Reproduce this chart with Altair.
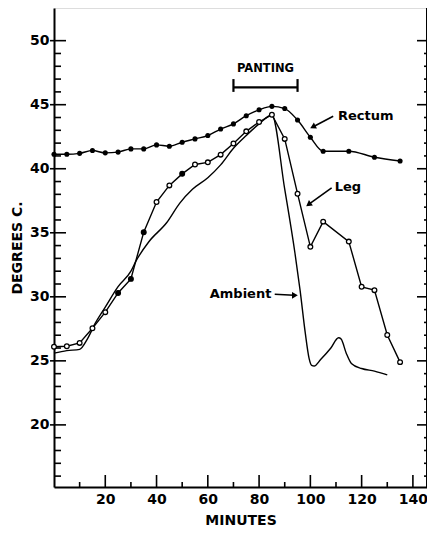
import altair as alt
import pandas as pd

# ---------------- data ----------------
rectum_min = [0, 5, 10, 15, 20, 25, 30, 35, 40, 45, 50, 55, 60, 65, 70, 75, 80, 85, 90, 95, 100, 105, 115, 125, 135]
rectum_deg = [41.13, 41.13, 41.2, 41.42, 41.24, 41.3, 41.55, 41.55, 41.86, 41.76, 42.07, 42.33, 42.59, 43.1, 43.5,
              44.14, 44.6, 44.87, 44.7, 43.8, 42.46, 41.37, 41.37, 40.9, 40.6]

leg_min = [0, 5, 10, 15, 20, 25, 30, 35, 40, 45, 50, 55, 60, 65, 70, 75, 80, 85, 90, 95, 100, 105, 115, 120, 125, 130, 135]
leg_deg = [26.1, 26.14, 26.4, 27.54, 28.8, 30.3, 31.4, 35.05, 37.4, 38.7, 39.6, 40.33, 40.5, 41.1, 41.97, 42.92,
           43.65, 44.22, 42.33, 38.05, 33.9, 35.87, 34.31, 30.78, 30.52, 27.02, 24.9]
leg_filled = [0, 0, 0, 0, 0, 1, 1, 1, 0, 0, 1, 0, 0, 0, 0, 0, 0, 0, 0, 0, 0, 0, 0, 0, 0, 0, 0]

ambient_min = [0, 5, 10, 13, 16, 20, 25, 30, 32, 37, 44, 49, 54, 60, 65, 70, 75, 80, 85, 90, 94, 96, 98, 99.5,
               100.5, 101.5, 104, 108, 111, 112, 114, 116, 120, 125, 130]
ambient_deg = [25.6, 25.8, 25.9, 26.7, 27.9, 29.2, 30.8, 32.0, 32.8, 34.3, 35.8, 37.3, 38.4, 39.3, 40.3, 41.6,
               42.6, 43.5, 44.2, 38.4, 33.4, 30.5, 27.2, 25.2, 24.65, 24.6, 25.1, 26.0, 26.8, 26.7, 25.6, 24.8,
               24.4, 24.2, 23.9]

x_labels = [20, 40, 60, 80, 100, 120, 140]
x_minor = [10, 30, 50, 70, 90, 110, 130]
y_labels = [20, 25, 30, 35, 40, 45, 50]
y_minor = [v for v in range(16, 50) if v % 5 != 0]

# annotations
notes_text = ["Rectum", "Leg", "Ambient"]
notes_x = [110.8, 109.5, 84.8]
notes_y = [44.1, 38.6, 30.2]
notes_align = ["left", "left", "right"]

arrow_x1 = [108.9, 108.3, 86.1]
arrow_y1 = [44.1, 38.5, 30.2]
arrow_x2 = [101.3, 99.6, 93.6]
arrow_y2 = [43.3, 37.25, 30.12]
arrow_angle = [242.5, 234.4, 90]

panting_x = [70, 95]
panting_y = 46.35
panting_cap = [46.0, 47.0]
panting_label_x = 82.5
panting_label_y = 47.75

# ---------------- chart ----------------
W, H = 373, 479
X_DOM = [0, 145.5]
Y_DOM = [15.15, 52.55]
FONT = "DejaVu Sans"

x_axis = alt.Axis(values=x_labels, ticks=False, grid=False, domainColor="black", domainWidth=2,
                  labelFont=FONT, labelFontWeight="bold", labelFontSize=14, labelColor="black",
                  labelPadding=5, title="MINUTES", titleFont=FONT, titleFontWeight="bold",
                  titleFontSize=14, titleColor="black", titlePadding=7, labelFlush=False)
y_axis = alt.Axis(values=y_labels, ticks=False, grid=False, domainColor="black", domainWidth=2,
                  labelFont=FONT, labelFontWeight="bold", labelFontSize=14, labelColor="black",
                  labelPadding=5, title="DEGREES C.", titleFont=FONT, titleFontWeight="bold",
                  titleFontSize=14, titleColor="black", titlePadding=5, labelFlush=False)


def X(field, **kw):
    return alt.X(field, type="quantitative", scale=alt.Scale(domain=X_DOM, nice=False, zero=False),
                 axis=x_axis, **kw)


def Y(field, **kw):
    return alt.Y(field, type="quantitative", scale=alt.Scale(domain=Y_DOM, nice=False, zero=False),
                 axis=y_axis, **kw)


rect_df = pd.DataFrame({"m": rectum_min, "d": rectum_deg})
leg_df = pd.DataFrame({"m": leg_min, "d": leg_deg, "f": leg_filled})
amb_df = pd.DataFrame({"m": ambient_min, "d": ambient_deg})

rect_line = alt.Chart(rect_df).mark_line(color="black", strokeWidth=1.4, interpolate="monotone").encode(
    x=X("m"), y=Y("d"))
rect_pts = alt.Chart(rect_df).mark_circle(color="black", size=26, opacity=1).encode(x=X("m"), y=Y("d"))

leg_line = alt.Chart(leg_df).mark_line(color="black", strokeWidth=1.4).encode(x=X("m"), y=Y("d"))
leg_pts = alt.Chart(leg_df).mark_point(shape="circle", size=22, stroke="black", strokeWidth=1.3,
                                       opacity=1).encode(
    x=X("m"), y=Y("d"),
    fill=alt.condition(alt.datum.f == 1, alt.value("black"), alt.value("white")))

amb_line = alt.Chart(amb_df).mark_line(color="black", strokeWidth=1.4, interpolate="monotone").encode(
    x=X("m"), y=Y("d"))

# ticks drawn inward
ylab_df = pd.DataFrame({"v": y_labels})
ymin_df = pd.DataFrame({"v": y_minor})
xlab_df = pd.DataFrame({"v": x_labels})
xmin_df = pd.DataFrame({"v": x_minor})

tick_style = dict(color="black", strokeWidth=1.6)
left_major = alt.Chart(ylab_df).mark_rule(**tick_style).encode(y=Y("v"), x=alt.value(-4), x2=alt.value(12))
left_minor = alt.Chart(ymin_df).mark_rule(**tick_style).encode(y=Y("v"), x=alt.value(0), x2=alt.value(7))
right_major = alt.Chart(ylab_df).mark_rule(**tick_style).encode(y=Y("v"), x=alt.value(W - 10), x2=alt.value(W))
right_minor = alt.Chart(ymin_df).mark_rule(**tick_style).encode(y=Y("v"), x=alt.value(W - 3), x2=alt.value(W))
bottom_major = alt.Chart(xlab_df).mark_rule(**tick_style).encode(x=X("v"), y=alt.value(H - 12), y2=alt.value(H))
bottom_minor = alt.Chart(xmin_df).mark_rule(**tick_style).encode(x=X("v"), y=alt.value(H - 5), y2=alt.value(H))
right_border = alt.Chart(pd.DataFrame({"v": [0]})).mark_rule(color="black", strokeWidth=2).encode(
    x=alt.value(W), y=alt.value(0), y2=alt.value(H))

# panting bracket
pant_df = pd.DataFrame({"a": [panting_x[0]], "b": [panting_x[1]], "y": [panting_y]})
pant_bar = alt.Chart(pant_df).mark_rule(color="black", strokeWidth=2.2).encode(
    x=X("a"), x2="b", y=Y("y"))
cap_df = pd.DataFrame({"x": panting_x, "y1": [panting_cap[0]] * 2, "y2": [panting_cap[1]] * 2})
pant_caps = alt.Chart(cap_df).mark_rule(color="black", strokeWidth=2.2).encode(
    x=X("x"), y=Y("y1"), y2="y2")
pant_text = alt.Chart(pd.DataFrame({"x": [panting_label_x], "y": [panting_label_y], "t": ["PANTING"]})).mark_text(
    font=FONT, fontWeight="bold", fontSize=11.5, color="black", align="center", baseline="middle").encode(
    x=X("x"), y=Y("y"), text="t")

notes_df = pd.DataFrame({"x": notes_x, "y": notes_y, "t": notes_text, "al": notes_align})
notes_left = alt.Chart(notes_df[notes_df.al == "left"]).mark_text(
    font=FONT, fontWeight="bold", fontSize=13, color="black", align="left", baseline="middle").encode(
    x=X("x"), y=Y("y"), text="t")
notes_right = alt.Chart(notes_df[notes_df.al == "right"]).mark_text(
    font=FONT, fontWeight="bold", fontSize=13, color="black", align="right", baseline="middle").encode(
    x=X("x"), y=Y("y"), text="t")

arr_df = pd.DataFrame({"x1": arrow_x1, "y1": arrow_y1, "x2": arrow_x2, "y2": arrow_y2, "ang": arrow_angle})
arr_shaft = alt.Chart(arr_df).mark_rule(color="black", strokeWidth=1.6).encode(
    x=X("x1"), y=Y("y1"), x2="x2", y2="y2")
arr_head = alt.Chart(arr_df).mark_point(shape="triangle", size=45, filled=True, color="black", opacity=1).encode(
    x=X("x2"), y=Y("y2"), angle=alt.Angle("ang:Q", scale=None))

chart = alt.layer(
    left_major, left_minor, right_major, right_minor, bottom_major, bottom_minor, right_border,
    amb_line, leg_line, rect_line, rect_pts, leg_pts,
    pant_bar, pant_caps, pant_text, notes_left, notes_right, arr_shaft, arr_head,
).properties(
    width=W, height=H,
    autosize=alt.AutoSizeParams(type="none"),
    padding={"left": 46, "top": 0, "right": 0, "bottom": 40},
).configure_view(stroke=None).configure(background="white")

chart.save("out.html", embed_options={"renderer": "svg", "actions": False})
